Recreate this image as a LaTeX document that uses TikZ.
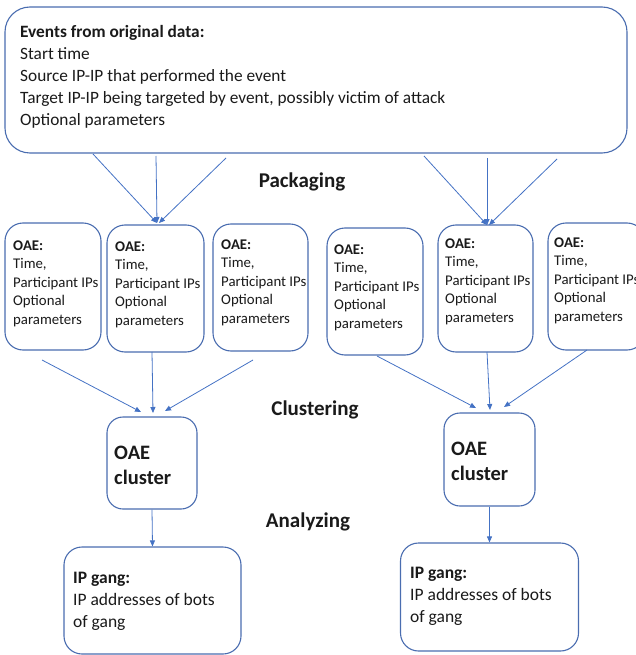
\documentclass[tikz,border=0pt]{standalone}
\usepackage{fontspec}
\setmainfont{Carlito}
\usetikzlibrary{arrows.meta}
\definecolor{ln}{HTML}{4472C4}
\definecolor{bx}{HTML}{4A6DB0}
\definecolor{tx}{HTML}{1A1A1A}
\begin{document}
\begin{tikzpicture}[x=1pt,y=-1pt,
  box/.style={draw=bx, line width=1.1pt, fill=white, inner sep=0pt},
  txt/.style={anchor=base west, inner sep=0pt, align=left, text=tx},
  oaefont/.style={font=\fontsize{14.8pt}{18.6pt}\selectfont},
  stage/.style={inner sep=0pt, text=tx, font=\fontsize{21pt}{24pt}\selectfont\bfseries},
  conn/.style={draw=ln, line width=0.8pt, -{Triangle[length=6pt,width=5pt]}}]
\useasboundingbox (0,0) rectangle (636,655);

% top box (text anchored at the baseline of its last line)
\node[box, rounded corners=25pt, minimum width=622pt, minimum height=146pt] (top) at (316,80) {};
\node[txt, font=\fontsize{17.3pt}{22pt}\selectfont] (toptext) at (20,126)
  {\textbf{Events from original data:}\\Start time\\Source IP-IP that performed the event\\Target IP-IP being targeted by event, possibly victim of attack\\Optional parameters};

% OAE boxes
\node[box, rounded corners=18pt, minimum width=96pt, minimum height=127pt] (o1) at (53,286.5) {};
\node[box, rounded corners=18pt, minimum width=97pt, minimum height=127pt] (o2) at (155.5,288.5) {};
\node[box, rounded corners=18pt, minimum width=95pt, minimum height=127pt] (o3) at (260.5,287.5) {};
\node[box, rounded corners=18pt, minimum width=96pt, minimum height=127pt] (o4) at (375,291.5) {};
\node[box, rounded corners=18pt, minimum width=95pt, minimum height=127pt] (o5) at (485.5,288.5) {};
\node[box, rounded corners=18pt, minimum width=97pt, minimum height=127pt] (o6) at (596.5,286.5) {};

\node[txt, oaefont] (t1) at (13,324.4) {\textbf{OAE:}\\Time,\\Participant IPs\\Optional\\parameters};
\node[txt, oaefont] (t2) at (115,325.4) {\textbf{OAE:}\\Time,\\Participant IPs\\Optional\\parameters};
\node[txt, oaefont] (t3) at (221,323.4) {\textbf{OAE:}\\Time,\\Participant IPs\\Optional\\parameters};
\node[txt, oaefont] (t4) at (334,328.4) {\textbf{OAE:}\\Time,\\Participant IPs\\Optional\\parameters};
\node[txt, oaefont] (t5) at (445,322.4) {\textbf{OAE:}\\Time,\\Participant IPs\\Optional\\parameters};
\node[txt, oaefont] (t6) at (554,321.4) {\textbf{OAE:}\\Time,\\Participant IPs\\Optional\\parameters};

% cluster boxes
\node[box, rounded corners=16pt, minimum width=90pt, minimum height=92pt] (c1) at (152,463) {};
\node[box, rounded corners=16pt, minimum width=91pt, minimum height=93pt] (c2) at (489.5,459.5) {};
\node[txt, font=\fontsize{20.5pt}{25pt}\selectfont\bfseries] (ct1) at (114,484) {OAE\\cluster};
\node[txt, font=\fontsize{20.5pt}{25pt}\selectfont\bfseries] (ct2) at (451,480) {OAE\\cluster};

% gang boxes
\node[box, rounded corners=18pt, minimum width=177pt, minimum height=107pt] (g1) at (152.5,600.5) {};
\node[box, rounded corners=18pt, minimum width=178pt, minimum height=108pt] (g2) at (489.5,597) {};
\node[txt, font=\fontsize{17.5pt}{22pt}\selectfont] (gt1) at (73,627) {\textbf{IP gang:}\\IP addresses of bots\\of gang};
\node[txt, font=\fontsize{17.5pt}{22pt}\selectfont] (gt2) at (410,622) {\textbf{IP gang:}\\IP addresses of bots\\of gang};

% stage labels
\node[stage] (pk) at (302,182) {Packaging};
\node[stage] (cl) at (315,410) {Clustering};
\node[stage] (an) at (308,522) {Analyzing};

% packaging connectors
\coordinate (pa1) at (93,154);  \coordinate (pa2) at (156,156); \coordinate (pa3) at (226,158);
\coordinate (pe1) at (157,223); \coordinate (pe2) at (157,223); \coordinate (pe3) at (159,223);
\coordinate (pb1) at (424,156); \coordinate (pb2) at (487,158); \coordinate (pb3) at (557,159);
\coordinate (pf1) at (487,225); \coordinate (pf2) at (487,225); \coordinate (pf3) at (489,225);
\draw[conn] (pa1) -- (pe1);
\draw[conn] (pa2) -- (pe2);
\draw[conn] (pa3) -- (pe3);
\draw[conn] (pb1) -- (pf1);
\draw[conn] (pb2) -- (pf2);
\draw[conn] (pb3) -- (pf3);

% clustering connectors
\coordinate (ca1) at (42,360);  \coordinate (ca2) at (152,352); \coordinate (ca3) at (253,360);
\coordinate (ce1) at (141,412); \coordinate (ce2) at (153,413); \coordinate (ce3) at (165,411);
\coordinate (cb1) at (377,356); \coordinate (cb2) at (487,352); \coordinate (cb3) at (587,350);
\coordinate (cf1) at (476,408); \coordinate (cf2) at (490,410); \coordinate (cf3) at (504,407);
\draw[conn] (ca1) -- (ce1);
\draw[conn] (ca2) -- (ce2);
\draw[conn] (ca3) -- (ce3);
\draw[conn] (cb1) -- (cf1);
\draw[conn] (cb2) -- (cf2);
\draw[conn] (cb3) -- (cf3);

% analyzing connectors
\draw[conn] (c1.south) -- (g1.north);
\draw[conn] (c2.south) -- (g2.north);
\end{tikzpicture}
\end{document}
